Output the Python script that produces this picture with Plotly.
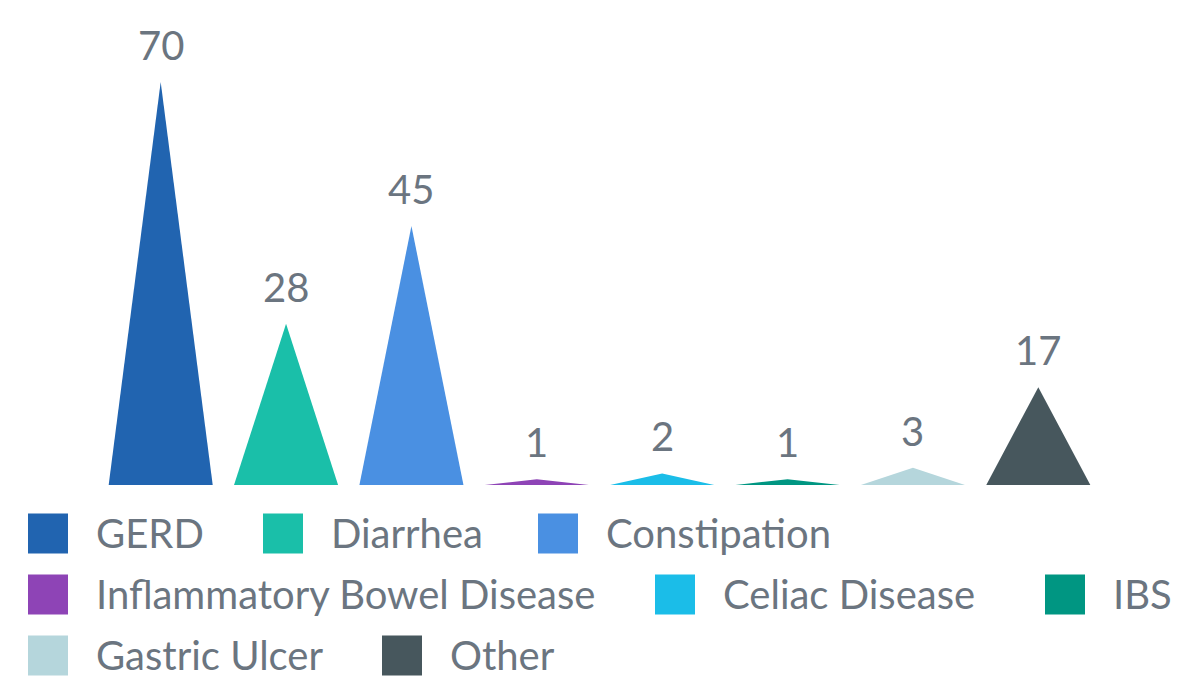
import plotly.graph_objects as go

categories = ["GERD", "Diarrhea", "Constipation", "Inflammatory Bowel Disease",
              "Celiac Disease", "IBS", "Gastric Ulcer", "Other"]
values = [70, 28, 45, 1, 2, 1, 3, 17]
colors = ["#2164b0", "#1abfa9", "#4a90e2", "#8e44b6",
          "#1bbde8", "#009682", "#b5d6dc", "#47575d"]

OFF = 8  # page body margin
W, H = 1194, 668
BASE = 485 - OFF          # baseline in figure px
ML = 98 - OFF
MR = W - (1101 - OFF)
MT = 0
MB = H - BASE
PLOT_W = W - ML - MR
PLOT_H = H - MT - MB
TEXT = "#6b7580"
FONT = "Lato"

fig = go.Figure()
half = 0.415
for i, (cat, v, c) in enumerate(zip(categories, values, colors)):
    fig.add_trace(go.Scatter(
        x=[i - half, i, i + half, i - half],
        y=[0, v, 0, 0],
        mode="lines", fill="toself", fillcolor=c,
        line=dict(width=0, color=c),
        name=cat, showlegend=False, hoverinfo="skip"))
    fig.add_annotation(x=i, y=v, text=str(v), showarrow=False,
                       yanchor="bottom", yshift=11,
                       font=dict(family=FONT, size=40, color=TEXT))

def px(sx):
    return (sx - OFF - ML) / PLOT_W

def py(sy):
    return (BASE - (sy - OFF)) / PLOT_H

# manual legend (large swatches), positions in screen px
legend_pos = [(28, 0), (263, 0), (538, 0), (28, 1), (655, 1), (1045, 1), (28, 2), (382, 2)]
row_y = [533.5, 594.5, 655.5]
sq = 40
for (cat, c), (lx, r) in zip(zip(categories, colors), legend_pos):
    cy = row_y[r]
    fig.add_shape(type="rect", xref="paper", yref="paper",
                  x0=px(lx), x1=px(lx + sq), y0=py(cy + sq / 2), y1=py(cy - sq / 2),
                  fillcolor=c, line=dict(width=0))
    fig.add_annotation(xref="paper", yref="paper", x=px(lx + 66), y=py(cy - 1),
                       xanchor="left", yanchor="middle", text=cat, showarrow=False,
                       font=dict(family=FONT, size=40, color=TEXT))

fig.update_layout(
    width=W, height=H,
    margin=dict(l=ML, r=MR, t=MT, b=MB),
    paper_bgcolor="white", plot_bgcolor="white",
    showlegend=False,
    xaxis=dict(range=[-0.5, 7.5], visible=False, fixedrange=True),
    yaxis=dict(range=[0, PLOT_H / 5.757], visible=False, fixedrange=True),
)
fig.write_html("out.html")
